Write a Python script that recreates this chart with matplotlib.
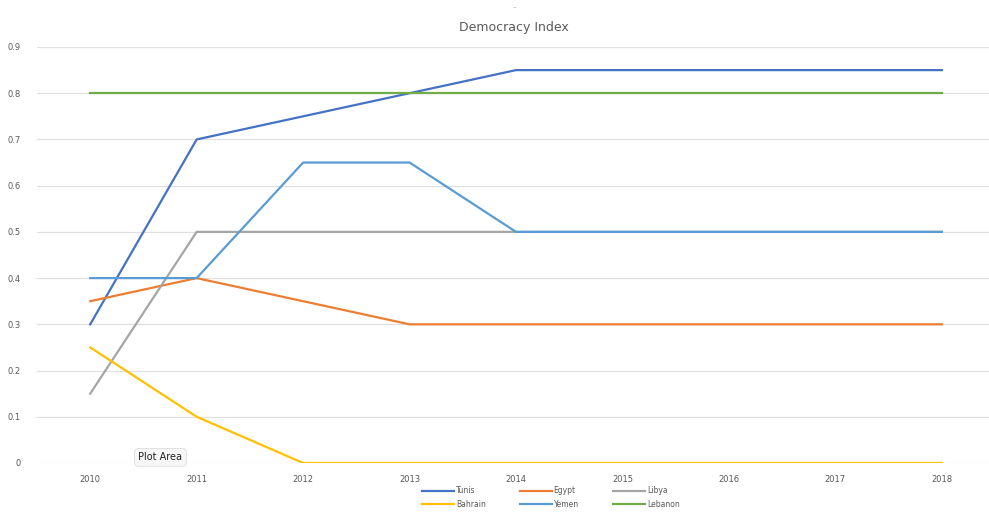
import numpy as np
import matplotlib.pyplot as plt

years = ["2010", "2011", "2012", "2013", "2014", "2015", "2016", "2017", "2018"]
tunis = [0.3, 0.7, 0.75, 0.8, 0.85, 0.85, 0.85, 0.85, 0.85]
egypt = [0.35, 0.4, 0.35, 0.3, 0.3, 0.3, 0.3, 0.3, 0.3]
libya = [0.15, 0.5, 0.5, 0.5, 0.5, 0.5, 0.5, 0.5, 0.5]
bahrain = [0.25, 0.1, 0.0, 0.0, 0.0, 0.0, 0.0, 0.0, 0.0]
yemen = [0.4, 0.4, 0.65, 0.65, 0.5, 0.5, 0.5, 0.5, 0.5]
lebanon = [0.8, 0.8, 0.8, 0.8, 0.8, 0.8, 0.8, 0.8, 0.8]
yticks = [0, 0.1, 0.2, 0.3, 0.4, 0.5, 0.6, 0.7, 0.8, 0.9]

series = [
    ("Tunis", tunis, "#4472C4"),
    ("Egypt", egypt, "#ED7D31"),
    ("Libya", libya, "#A5A5A5"),
    ("Bahrain", bahrain, "#FFC000"),
    ("Yemen", yemen, "#5B9BD5"),
    ("Lebanon", lebanon, "#70AD47"),
]

fig = plt.figure(figsize=(9.89, 5.13), dpi=100)
ax = fig.add_axes([0.0374, 0.0975, 0.9687, 0.8109])
x = np.arange(len(years))

lines = {}
for name, vals, col in series:
    (ln,) = ax.plot(x, vals, color=col, lw=1.6, label=name, zorder=3)
    lines[name] = ln

ax.set_xlim(-0.5, 8.5)
ax.set_ylim(0, 0.9)
ax.set_xticks(x)
ax.set_xticklabels(years)
ax.set_yticks(yticks)
ax.set_yticklabels([f"{v:g}" for v in yticks])
ax.grid(axis="y", color="#E0E0E0", lw=0.9, zorder=0)
for s in ax.spines.values():
    s.set_visible(False)
ax.tick_params(length=0, labelsize=6, colors="#595959", pad=9)
ax.tick_params(axis="y", pad=12)

fig.text(0.52, 0.947, "Democracy Index", ha="center", va="center",
         fontsize=9, color="#595959")
fig.text(0.52, 0.985, "\u2013", ha="center", va="center", fontsize=5, color="#999999")

order = ["Tunis", "Bahrain", "Egypt", "Yemen", "Libya", "Lebanon"]
fig.legend([lines[n] for n in order], order, ncol=3, loc="center",
           bbox_to_anchor=(0.557, 0.03), frameon=False, fontsize=5.5,
           handlelength=4.2, columnspacing=4.5, handletextpad=0.2,
           labelspacing=0.6, labelcolor="#595959")

ax.text(0.66, 0.012, "Plot Area", fontsize=7,
        color="#222222", ha="center", va="center", zorder=5,
        bbox=dict(boxstyle="round,pad=0.4", fc="#F7F7F7", ec="#DDDDDD", lw=0.6))

fig.savefig("out.png", dpi=100)
